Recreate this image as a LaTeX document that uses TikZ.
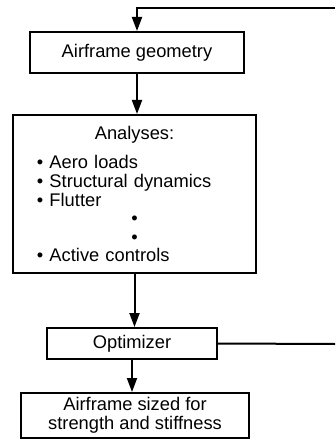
\documentclass[tikz,border=0pt]{standalone}
\usepackage{fontspec}
\setmainfont{Liberation Sans}
\usetikzlibrary{arrows.meta}

\begin{document}
\begin{tikzpicture}[x=0.5bp,y=-0.5bp]
% styles
\tikzstyle{bloc}=[rectangle,draw,line width=1bp,inner sep=2bp,font=\fontsize{9.15bp}{9.3bp}\selectfont]
\tikzstyle{fleche}=[-{Triangle[length=7bp,width=5bp]},line width=1bp]
\tikzstyle{ligne}=[line width=1bp]
\useasboundingbox (0,0) rectangle (335,440);
% nodes
\node[bloc,minimum width=106.5bp,minimum height=20.5bp] (geo) at (137,52.5) {Airframe geometry};
\node[bloc,minimum height=79bp,inner xsep=12bp,text width=97.5bp,align=left] (ana) at (134.5,194)
  {\makebox[\linewidth]{Analyses:}\\[5.5bp]
   \textbullet\ Aero loads\\
   \textbullet\ Structural dynamics\\
   \textbullet\ Flutter\\
   \makebox[\linewidth]{\textbullet}\\
   \makebox[\linewidth]{\textbullet}\\
   \textbullet\ Active controls};
\node[bloc,minimum width=85bp,minimum height=15.5bp] (opt) at (132,343.5) {Optimizer};
\node[bloc,minimum width=114bp,minimum height=22.5bp,align=center] (sized) at (135,415.5) {Airframe sized for\\strength and stiffness};
\coordinate (hautdroit) at (335,8);
\coordinate (basdroit) at (335,344);
% arrows
\draw[fleche] (geo.south) -- (geo.south |- ana.north);
\draw[fleche] (ana.south) -- (ana.south |- opt.north);
\draw[fleche] (opt.south) -- (opt.south |- sized.north);
\draw[ligne] (opt.east) -- (basdroit);
\draw[fleche] (hautdroit) -- (geo.north |- hautdroit) -- (geo.north);
\end{tikzpicture}
\end{document}
